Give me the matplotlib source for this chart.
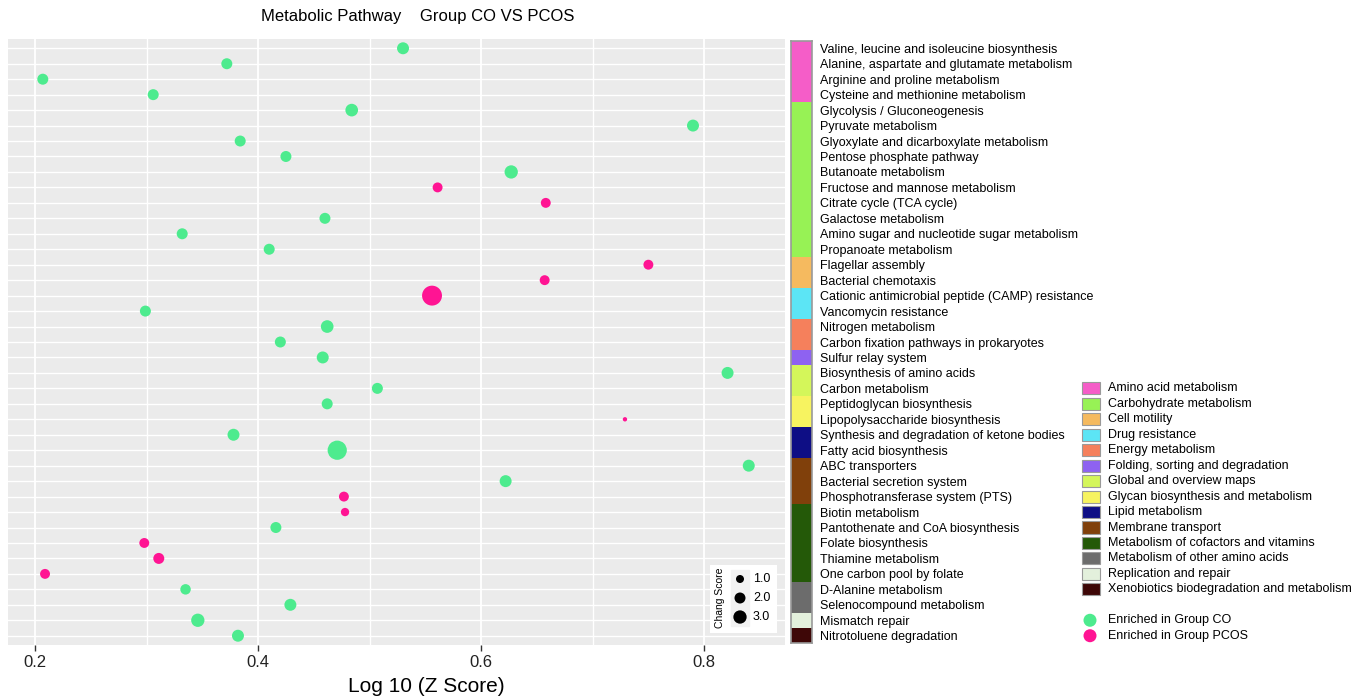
import numpy as np
import matplotlib.pyplot as plt
from matplotlib.patches import Rectangle

plt.rcParams['font.family'] = ['Liberation Sans', 'DejaVu Sans']

# pathways, top to bottom
pathways = ['Valine, leucine and isoleucine biosynthesis', 'Alanine, aspartate and glutamate metabolism',
            'Arginine and proline metabolism', 'Cysteine and methionine metabolism',
            'Glycolysis / Gluconeogenesis', 'Pyruvate metabolism', 'Glyoxylate and dicarboxylate metabolism',
            'Pentose phosphate pathway', 'Butanoate metabolism', 'Fructose and mannose metabolism',
            'Citrate cycle (TCA cycle)', 'Galactose metabolism', 'Amino sugar and nucleotide sugar metabolism',
            'Propanoate metabolism', 'Flagellar assembly', 'Bacterial chemotaxis',
            'Cationic antimicrobial peptide (CAMP) resistance', 'Vancomycin resistance',
            'Nitrogen metabolism', 'Carbon fixation pathways in prokaryotes', 'Sulfur relay system',
            'Biosynthesis of amino acids', 'Carbon metabolism', 'Peptidoglycan biosynthesis',
            'Lipopolysaccharide biosynthesis', 'Synthesis and degradation of ketone bodies',
            'Fatty acid biosynthesis', 'ABC transporters', 'Bacterial secretion system',
            'Phosphotransferase system (PTS)', 'Biotin metabolism', 'Pantothenate and CoA biosynthesis',
            'Folate biosynthesis', 'Thiamine metabolism', 'One carbon pool by folate',
            'D-Alanine metabolism', 'Selenocompound metabolism', 'Mismatch repair', 'Nitrotoluene degradation']

log_z = [0.530, 0.372, 0.207, 0.306, 0.484, 0.790, 0.384, 0.425, 0.627, 0.561,
         0.658, 0.460, 0.332, 0.410, 0.750, 0.657, 0.556, 0.299, 0.462, 0.420,
         0.458, 0.821, 0.507, 0.462, 0.729, 0.378, 0.471, 0.840, 0.622, 0.477,
         0.478, 0.416, 0.298, 0.311, 0.209, 0.335, 0.429, 0.346, 0.382]

chang_score = [2.4, 2.0, 2.0, 2.0, 2.7, 2.4, 2.0, 2.0, 3.0, 1.6,
               1.6, 2.0, 2.0, 2.0, 1.6, 1.6, 7.0, 2.0, 2.7, 2.0,
               2.4, 2.4, 2.0, 2.0, 0.25, 2.4, 6.5, 2.4, 2.4, 1.6,
               1.1, 2.0, 1.6, 2.0, 1.6, 1.8, 2.4, 3.0, 2.4]

enriched = ['CO', 'CO', 'CO', 'CO', 'CO', 'CO', 'CO', 'CO', 'CO', 'PCOS',
            'PCOS', 'CO', 'CO', 'CO', 'PCOS', 'PCOS', 'PCOS', 'CO', 'CO', 'CO',
            'CO', 'CO', 'CO', 'CO', 'PCOS', 'CO', 'CO', 'CO', 'CO', 'PCOS',
            'PCOS', 'CO', 'PCOS', 'PCOS', 'PCOS', 'CO', 'CO', 'CO', 'CO']

categories = ['Amino acid metabolism', 'Carbohydrate metabolism', 'Cell motility', 'Drug resistance',
              'Energy metabolism', 'Folding, sorting and degradation', 'Global and overview maps',
              'Glycan biosynthesis and metabolism', 'Lipid metabolism', 'Membrane transport',
              'Metabolism of cofactors and vitamins', 'Metabolism of other amino acids',
              'Replication and repair', 'Xenobiotics biodegradation and metabolism']
cat_count = [4, 10, 2, 2, 2, 1, 2, 2, 2, 3, 5, 2, 1, 1]
cat_colors = ['#F55DC8', '#97F255', '#F5BA5F', '#5CE5F5', '#F5805C', '#8E62F1', '#D4F65A',
              '#F7F360', '#0E0E85', '#80400B', '#245908', '#6C6C6C', '#E3F0DC', '#3E0707']

group_names = ['Enriched in Group CO', 'Enriched in Group PCOS']
group_colors = {'CO': '#4DEB8E', 'PCOS': '#FF1493'}
size_breaks = [1.0, 2.0, 3.0]

W, H = 1363, 697


def marker_area(score):
    # diameter in px grows with sqrt(score), converted to points^2
    d = 0.76 + 7.24 * np.sqrt(np.asarray(score, dtype=float))
    return (d * 72 / 100) ** 2


fig = plt.figure(figsize=(W / 100, H / 100), dpi=100)

# main panel
p_left, p_right, p_top, p_bot = 8, 785, 39, 645
ax = fig.add_axes([p_left / W, (H - p_bot) / H, (p_right - p_left) / W, (p_bot - p_top) / H])
n = len(pathways)
rows = np.arange(n)
ax.set_facecolor('#EBEBEB')
ax.set_xlim(0.1758, 0.8725)
ax.set_ylim(n - 1 + 0.6, -0.6)
for s in ax.spines.values():
    s.set_visible(False)
ax.set_xticks([0.2, 0.4, 0.6, 0.8])
ax.set_xticklabels(['0.2', '0.4', '0.6', '0.8'])
ax.set_xticks([0.3, 0.5, 0.7], minor=True)
ax.set_yticks(rows)
ax.set_yticklabels([])
ax.tick_params(axis='y', length=0)
ax.tick_params(axis='x', which='major', length=4, width=1, color='#333333', labelsize=12, labelcolor='#222222', pad=3)
ax.tick_params(axis='x', which='minor', length=0)
ax.grid(True, axis='x', which='major', color='white', lw=1.3)
ax.grid(True, axis='x', which='minor', color='white', lw=1.0)
ax.grid(True, axis='y', which='major', color='white', lw=1.0)
ax.set_axisbelow(True)

cols = [group_colors[g] for g in enriched]
ax.scatter(log_z, rows, s=marker_area(chang_score), c=cols, edgecolors='none', zorder=3)

ax.set_xlabel('Log 10 (Z Score)', fontsize=15, color='black')
ax.xaxis.set_label_coords((426 - p_left) / (p_right - p_left), -0.052)
fig.text(418 / W, 1 - 17 / H, 'Metabolic Pathway    Group CO VS PCOS', fontsize=12, ha='center', va='center')

# size legend inside panel
lx0, lx1, ly0, ly1 = 710, 777, 565, 633
lax = fig.add_axes([lx0 / W, (H - ly1) / H, (lx1 - lx0) / W, (ly1 - ly0) / H])
lax.set_xlim(0, lx1 - lx0)
lax.set_ylim(ly1 - ly0, 0)
lax.axis('off')
lax.add_patch(Rectangle((0, 0), lx1 - lx0, ly1 - ly0, color='white', zorder=0))
for i, b in enumerate(size_breaks):
    yc = 14 + 19 * i
    lax.add_patch(Rectangle((21, yc - 9), 18, 18, color='#F2F2F2', zorder=1))
    lax.scatter([30], [yc], s=marker_area(b), color='black', edgecolors='none', zorder=2)
    lax.text(43, yc, f'{b:.1f}', fontsize=9, va='center', ha='left')
lax.text(10, 33, 'Chang Score', fontsize=7.5, rotation=90, ha='center', va='center')

# category colour strip with pathway labels
row_px = (p_bot - p_top) / (n + 0.2)
c_top = p_top + 0.1 * row_px
c_bot = p_bot - 0.1 * row_px
cax = fig.add_axes([791 / W, (H - c_bot) / H, 21 / W, (c_bot - c_top) / H])
row_cat = np.repeat(np.arange(len(categories)), cat_count)
cax.barh(rows, 1, height=1.0, left=0, color=[cat_colors[k] for k in row_cat], edgecolor='none')
cax.set_xlim(0, 1)
cax.set_ylim(n - 0.5, -0.5)
cax.set_xticks([])
cax.yaxis.tick_right()
cax.set_yticks(rows)
cax.set_yticklabels(pathways, fontsize=9)
cax.tick_params(axis='y', length=0, pad=6)
for s in cax.spines.values():
    s.set_color('#999999')
    s.set_linewidth(1.2)

# category + group legend, aligned to rows
rx0 = 1075
rax = fig.add_axes([rx0 / W, (H - p_bot) / H, (W - rx0) / W, (p_bot - p_top) / H])
rax.set_xlim(0, W - rx0)
rax.set_ylim(n - 1 + 0.6, -0.6)
rax.axis('off')
start = 22
for k, (name, col) in enumerate(zip(categories, cat_colors)):
    r = start + k
    rax.add_patch(Rectangle((7, r - 0.39), 18, 0.78, facecolor=col, edgecolor='#9A9A9A', lw=0.8))
    rax.text(33, r, name, fontsize=9, va='center', ha='left')
for k, (name, g) in enumerate(zip(group_names, ['CO', 'PCOS'])):
    r = start + len(categories) + 1 + k
    rax.scatter([15], [r], s=(13 * 0.72) ** 2, color=group_colors[g], edgecolors='none')
    rax.text(33, r, name, fontsize=9, va='center', ha='left')

fig.savefig('out.png', dpi=100)
